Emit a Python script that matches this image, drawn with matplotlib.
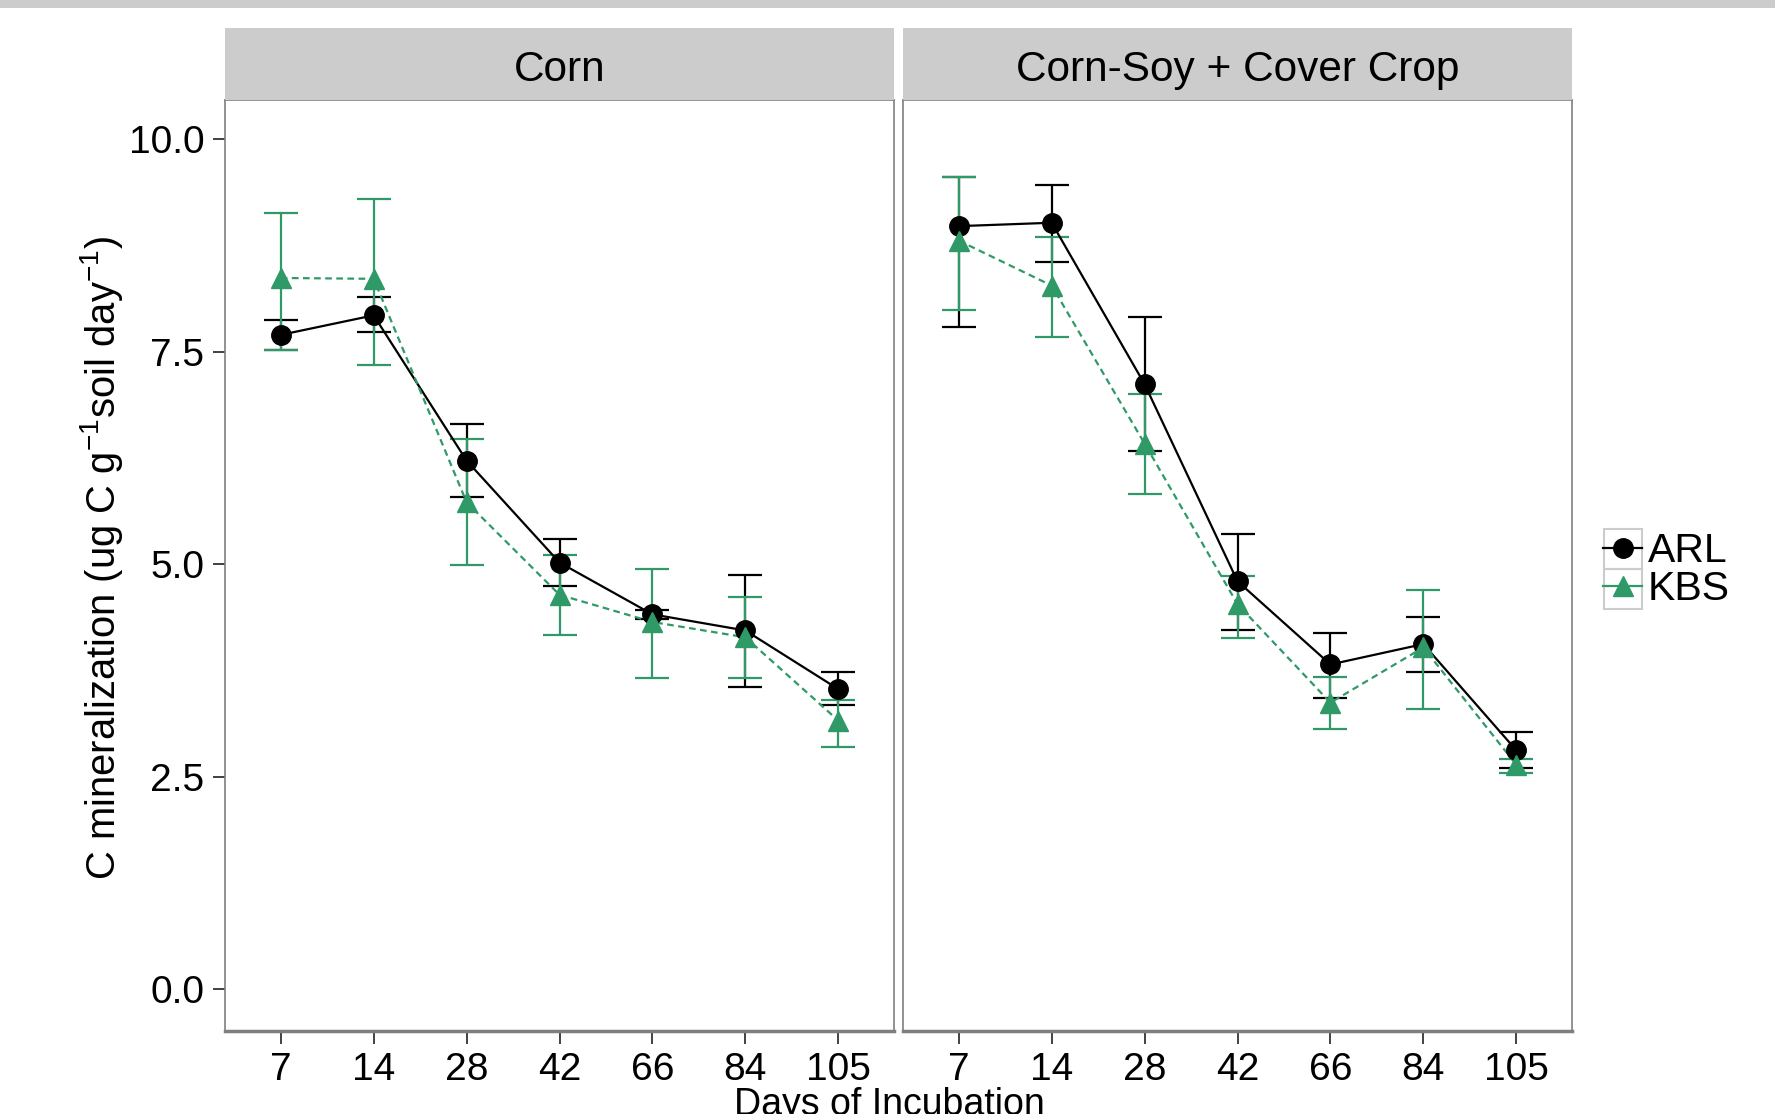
import matplotlib
matplotlib.use('Agg')
import matplotlib.pyplot as plt
import numpy as np
from matplotlib.lines import Line2D
from matplotlib.patches import Rectangle

plt.rcParams['font.family'] = ['Liberation Sans', 'DejaVu Sans']
plt.rcParams['mathtext.fontset'] = 'custom'
plt.rcParams['mathtext.rm'] = 'Liberation Sans'
plt.rcParams['mathtext.it'] = 'Liberation Sans'

days = ['7', '14', '28', '42', '66', '84', '105']
panels = ['Corn', 'Corn-Soy + Cover Crop']

# Corn
corn_arl = [7.70, 7.93, 6.22, 5.02, 4.41, 4.22, 3.53]
corn_arl_lo = [7.52, 7.73, 5.79, 4.74, 4.36, 3.55, 3.34]
corn_arl_hi = [7.88, 8.15, 6.65, 5.30, 4.46, 4.87, 3.73]
corn_kbs = [8.37, 8.36, 5.73, 4.64, 4.32, 4.14, 3.16]
corn_kbs_lo = [7.52, 7.34, 4.99, 4.17, 3.66, 3.66, 2.85]
corn_kbs_hi = [9.14, 9.30, 6.47, 5.11, 4.94, 4.61, 3.40]

# Corn-Soy + Cover Crop
cs_arl = [8.98, 9.02, 7.12, 4.80, 3.82, 4.06, 2.81]
cs_arl_lo = [7.79, 8.56, 6.33, 4.23, 3.43, 3.73, 2.60]
cs_arl_hi = [9.56, 9.47, 7.91, 5.35, 4.19, 4.38, 3.02]
cs_kbs = [8.81, 8.28, 6.42, 4.53, 3.37, 4.02, 2.64]
cs_kbs_lo = [7.99, 7.67, 5.83, 4.13, 3.06, 3.30, 2.54]
cs_kbs_hi = [9.56, 8.85, 7.00, 4.86, 3.67, 4.70, 2.71]

data = [
    (corn_arl, corn_arl_lo, corn_arl_hi, corn_kbs, corn_kbs_lo, corn_kbs_hi),
    (cs_arl, cs_arl_lo, cs_arl_hi, cs_kbs, cs_kbs_lo, cs_kbs_hi),
]

green = '#2f9a67'
border = '#7f7f7f'
W, H = 1775, 1114

fig = plt.figure(figsize=(W / 100, H / 100), dpi=100)

# thin grey band at the very top
fig.patches.append(Rectangle((0, 1 - 8 / H), 1, 8 / H, transform=fig.transFigure,
                             facecolor='#cccccc', edgecolor='none'))

lefts = [225, 903]
pw = 669
ptop, pbot = 100, 1031
stop = 28
x = np.arange(len(days))

for k in range(2):
    l = lefts[k]
    ax = fig.add_axes([l / W, 1 - pbot / H, pw / W, (pbot - ptop) / H])
    arl, alo, ahi, kbs, klo, khi = [np.array(v) for v in data[k]]
    ax.errorbar(x, arl, yerr=[arl - alo, ahi - arl], fmt='none', ecolor='black',
                elinewidth=1.6, capsize=12, capthick=1.6, zorder=2)
    ax.errorbar(x, kbs, yerr=[kbs - klo, khi - kbs], fmt='none', ecolor=green,
                elinewidth=1.6, capsize=12, capthick=1.6, zorder=2.1)
    ax.plot(x, arl, color='black', lw=1.6, zorder=3)
    ax.plot(x, kbs, color=green, lw=1.6, ls=(0, (3, 2)), zorder=3.1)
    ax.plot(x, arl, 'o', color='black', ms=14, zorder=4)
    ax.plot(x, kbs, '^', color=green, ms=15, zorder=4.1)
    ax.set_xlim(-0.6, 6.6)
    ax.set_ylim(-0.495, 10.465)
    ax.set_xticks(x)
    ax.set_xticklabels(days)
    ax.set_yticks([0, 2.5, 5, 7.5, 10])
    ax.set_yticklabels(['0.0', '2.5', '5.0', '7.5', '10.0'])
    ax.tick_params(labelsize=28, length=9, width=1.3, color='#333333', pad=6)
    if k == 1:
        ax.tick_params(axis='y', left=False, labelleft=False)
    for s in ax.spines.values():
        s.set_color(border)
        s.set_linewidth(1.2)
    ax.spines['bottom'].set_linewidth(2.5)
    # strip
    sax = fig.add_axes([l / W, 1 - ptop / H, pw / W, (ptop - stop) / H])
    sax.set_facecolor('#cccccc')
    sax.set_xticks([])
    sax.set_yticks([])
    for s in sax.spines.values():
        s.set_visible(False)
    sax.text(0.5, 0.42, panels[k], ha='center', va='center', fontsize=30.5,
             transform=sax.transAxes)

fig.text(102 / W, 1 - 558 / H, r'C mineralization (ug C g$^{-1}$soil day$^{-1}$)',
         rotation=90, ha='center', va='center', fontsize=28.8)
fig.text(889 / W, 1 - 1087 / H, 'Days of Incubation', ha='center', va='top',
         fontsize=27)

handles = [Line2D([], [], color='black', lw=1.6, marker='o', ms=14),
           Line2D([], [], color=green, lw=1.6, marker='^', ms=15)]
fig.legend(handles, ['ARL', 'KBS'], loc='center left',
           bbox_to_anchor=(1583 / W, 1 - 570 / H), frameon=False, fontsize=29.5,
           handlelength=0.93, handletextpad=0.15, labelspacing=0.0, borderpad=0)

for yy in [529, 569]:
    fig.patches.append(Rectangle((1604 / W, 1 - (yy + 40) / H), 38 / W, 40 / H,
                                 transform=fig.transFigure, facecolor='none',
                                 edgecolor='#cccccc', lw=1.5))

fig.savefig('out.png', dpi=100)
